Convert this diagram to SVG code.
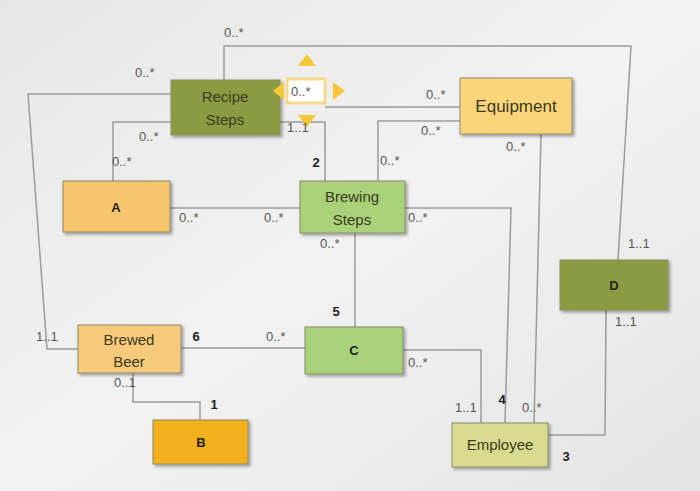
<svg xmlns="http://www.w3.org/2000/svg" width="700" height="491" viewBox="0 0 700 491">
<style>
.n{stroke:#8a8a6a;stroke-width:1}
.t{font-family:"Liberation Sans",Arial,sans-serif;font-size:15px;fill:#3a3a20;text-anchor:middle}
.b{font-family:"Liberation Sans",Arial,sans-serif;font-size:13px;font-weight:bold;fill:#222;text-anchor:middle}
.m{font-family:"Liberation Sans",Arial,sans-serif;font-size:13px;fill:#555}
.c{fill:none;stroke:#9a9a9a;stroke-width:1.5}
.a{fill:#f5c83a}
</style>
<defs>
<linearGradient id="bg" x1="0" y1="0" x2="1" y2="1"><stop offset="0" stop-color="#e6e6e6"/><stop offset="0.5" stop-color="#f2f2f2"/><stop offset="1" stop-color="#e4e4e4"/></linearGradient>
<filter id="sh"><feDropShadow dx="2" dy="2" stdDeviation="1.5" flood-opacity="0.35"/></filter>
</defs>
<rect width="700" height="491" fill="url(#bg)"/>
<g id="connectors">
<polyline class="c" points="224,80 224,46 631,46 618,260"/>
<polyline class="c" points="171,94 28,94 47,349 78,349"/>
<polyline class="c" points="113,181 113,122 171,122"/>
<polyline class="c" points="280,122 325,122 325,181"/>
<polyline class="c" points="325,107 460,107"/>
<polyline class="c" points="378,181 378,121 460,121"/>
<polyline class="c" points="170,208 300,208"/>
<polyline class="c" points="405,208 511,208 505,423"/>
<polyline class="c" points="541,134 534,423"/>
<polyline class="c" points="403,350 481,350 481,423"/>
<polyline class="c" points="355,233 355,327"/>
<polyline class="c" points="181,348 305,348"/>
<polyline class="c" points="133,373 133,402 200,402 200,420"/>
<polyline class="c" points="548,435 605,435 606,310"/>
</g>
<g id="recipe"><rect class="n" x="171" y="80" width="109" height="55" fill="#8b9b43" filter="url(#sh)"/><text class="t" x="225" y="102">Recipe</text><text class="t" x="225" y="125">Steps</text></g>
<g id="selection">
<rect x="287" y="79" width="38" height="24" fill="#fff" stroke="#f5d98a" stroke-width="3"/>
<text class="m" x="291" y="96">0..*</text>
<polygon class="a" points="298,66 316,66 307,54"/>
<polygon class="a" points="298,115 316,115 307,127"/>
<polygon class="a" points="284,82 284,100 273,91"/>
<polygon class="a" points="333,82 333,100 345,91"/>
</g>
<g id="equipment"><rect class="n" x="460" y="78" width="112" height="56" fill="#fcd57a" filter="url(#sh)"/><text class="t" x="516" y="112" style="font-size:17px">Equipment</text></g>
<g id="a"><rect class="n" x="63" y="181" width="107" height="51" fill="#f7c66e" filter="url(#sh)"/><text class="b" x="116" y="212">A</text></g>
<g id="brewing"><rect class="n" x="300" y="181" width="105" height="52" fill="#a9d17a" filter="url(#sh)"/><text class="t" x="352" y="202">Brewing</text><text class="t" x="352" y="225">Steps</text></g>
<g id="d"><rect class="n" x="560" y="260" width="108" height="50" fill="#8b9b43" filter="url(#sh)"/><text class="b" x="614" y="290">D</text></g>
<g id="brewedbeer"><rect class="n" x="78" y="325" width="103" height="48" fill="#f8ca7b" filter="url(#sh)"/><text class="t" x="129" y="345">Brewed</text><text class="t" x="129" y="367">Beer</text></g>
<g id="c"><rect class="n" x="305" y="327" width="98" height="47" fill="#a8d17c" filter="url(#sh)"/><text class="b" x="354" y="355">C</text></g>
<g id="b"><rect class="n" x="153" y="420" width="95" height="44" fill="#f2b11d" filter="url(#sh)"/><text class="b" x="201" y="447">B</text></g>
<g id="employee"><rect class="n" x="452" y="423" width="96" height="44" fill="#d9dc8e" filter="url(#sh)"/><text class="t" x="500" y="450">Employee</text></g>
<g id="labels">
<text class="m" x="224" y="37">0..*</text>
<text class="m" x="135" y="77">0..*</text>
<text class="m" x="139" y="141">0..*</text>
<text class="m" x="112" y="166">0..*</text>
<text class="m" x="287" y="132">1..1</text>
<text class="b" x="316" y="167">2</text>
<text class="m" x="426" y="99">0..*</text>
<text class="m" x="421" y="135">0..*</text>
<text class="m" x="380" y="165">0..*</text>
<text class="m" x="506" y="151">0..*</text>
<text class="m" x="179" y="222">0..*</text>
<text class="m" x="264" y="222">0..*</text>
<text class="m" x="408" y="222">0..*</text>
<text class="m" x="320" y="248">0..*</text>
<text class="m" x="628" y="248">1..1</text>
<text class="m" x="615" y="326">1..1</text>
<text class="b" x="336" y="316">5</text>
<text class="m" x="36" y="341">1..1</text>
<text class="b" x="196" y="341">6</text>
<text class="m" x="266" y="341">0..*</text>
<text class="m" x="408" y="367">0..*</text>
<text class="m" x="114" y="387">0..1</text>
<text class="b" x="214" y="409">1</text>
<text class="m" x="455" y="412">1..1</text>
<text class="b" x="502" y="404">4</text>
<text class="m" x="522" y="412">0..*</text>
<text class="b" x="566" y="461">3</text>
</g>
</svg>
